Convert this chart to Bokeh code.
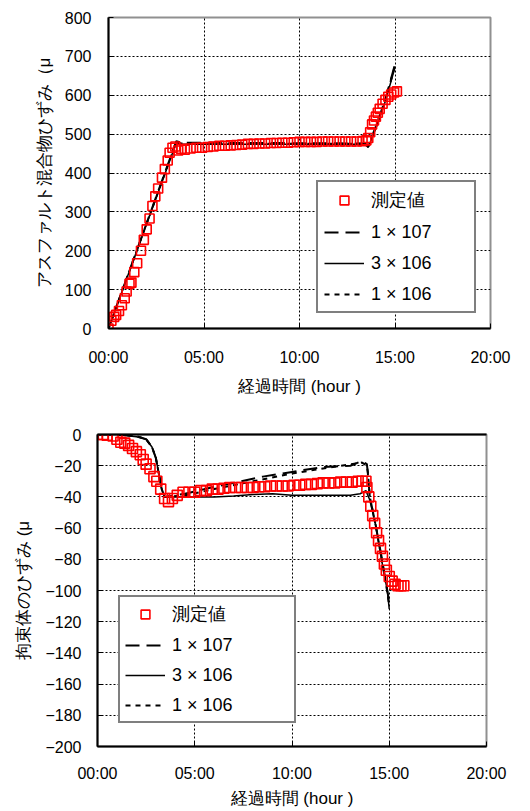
from bokeh.plotting import figure
from bokeh.models import FixedTicker, Legend, LegendItem, LinearAxis, Range1d
from bokeh.embed import file_html
from bokeh.resources import INLINE

# ---------------- data: top chart (asphalt mixture strain) ----------------
top_meas_h = [0.0, 0.15, 0.3, 0.4, 0.55, 0.7, 0.85, 0.95, 1.1, 1.2, 1.35, 1.5, 1.7, 1.85,
              2.0, 2.15, 2.3, 2.45, 2.6, 2.8, 2.95, 3.1, 3.2, 3.35, 3.5, 3.65, 3.8, 4.0,
              4.3, 4.6, 4.9, 5.2, 5.5, 5.8, 6.1, 6.4, 6.7, 7.0, 7.3, 7.6, 7.9, 8.2, 8.5,
              8.8, 9.1, 9.4, 9.7, 10.0, 10.3, 10.6, 10.9, 11.2, 11.5, 11.8, 12.1, 12.4,
              12.7, 13.0, 13.3, 13.5, 13.6, 13.7, 13.8, 13.9, 14.0, 14.1, 14.2, 14.35,
              14.5, 14.65, 14.8, 14.95, 15.1]
top_meas_v = [0, 20, 30, 35, 45, 60, 78, 95, 115, 118, 145, 168, 200, 228,
              255, 283, 315, 340, 360, 388, 410, 432, 452, 465, 468, 458, 462, 460,
              463, 465, 465, 467, 468, 470, 470, 471, 472, 473, 475, 475, 476, 476, 477,
              477, 478, 478, 479, 480, 480, 480, 480, 481, 481, 481, 481, 481,
              481, 481, 482, 484, 490, 505, 525, 535, 545, 555, 565, 578,
              588, 596, 602, 607, 610]

top_m1_h = [0.0, 3.55, 3.8, 13.4, 13.6, 14.0, 14.5, 15.0]
top_m1_v = [0, 482, 478, 476, 470, 520, 590, 680]
top_m2_h = [0.0, 3.55, 3.8, 13.4, 13.6, 14.0, 14.5, 15.0]
top_m2_v = [0, 478, 474, 474, 466, 515, 585, 672]
top_m3_h = [0.0, 3.55, 3.8, 13.4, 13.6, 14.0, 14.5, 15.0]
top_m3_v = [0, 480, 476, 475, 468, 518, 588, 676]

# ---------------- data: bottom chart (restraint body strain) ----------------
bot_meas_h = [0.0, 0.3, 0.5, 0.8, 1.0, 1.2, 1.4, 1.6, 1.8, 2.0, 2.2, 2.35, 2.5, 2.7, 2.9,
              3.05, 3.25, 3.45, 3.65, 3.85, 4.1, 4.4, 4.7, 5.0, 5.3, 5.6, 5.9, 6.2, 6.5,
              6.8, 7.1, 7.4, 7.7, 8.0, 8.3, 8.6, 8.9, 9.2, 9.5, 9.8, 10.1, 10.4, 10.7,
              11.0, 11.3, 11.6, 11.9, 12.2, 12.5, 12.8, 13.1, 13.4, 13.6, 13.8, 13.85,
              13.95, 14.05, 14.15, 14.25, 14.35, 14.45, 14.55, 14.65, 14.75, 14.85, 15.0,
              15.15, 15.3, 15.45, 15.6, 15.75]
bot_meas_v = [0, 0, -0.5, -1, -3, -5, -5.5, -7, -9, -11, -13, -16, -19, -22, -27,
              -30, -35, -41, -43, -41, -39, -37, -37, -37, -36, -36, -35, -35, -34.5,
              -34, -34, -34, -34, -34, -33.5, -33.5, -33, -33, -33, -33, -32.5, -32.5, -32,
              -32, -31.5, -31, -31, -31, -30.5, -30.5, -30.5, -30, -30, -30, -34,
              -40, -46, -52, -57, -63, -68, -73, -78, -83, -87, -91,
              -94, -96, -97, -97, -97]

bot_m1_h = [0.0, 1.0, 2.0, 2.5, 2.8, 3.0, 3.15, 3.3, 3.45, 4.5, 5.5, 7.0, 8.5, 10.0,
            11.5, 13.0, 13.6, 13.85, 13.9, 14.0, 14.3, 14.6, 14.9, 15.0]
bot_m1_v = [0, 0, -1, -3, -8, -15, -25, -35, -40, -38, -35, -31, -27, -24,
            -21, -20, -17, -19, -25, -40, -58, -78, -100, -108]
bot_m2_h = [0.0, 1.0, 2.0, 2.5, 2.8, 3.0, 3.15, 3.3, 3.45, 4.0, 5.0, 6.0, 7.0, 8.0,
            9.0, 10.0, 11.0, 12.0, 13.0, 13.5, 13.8, 14.0, 14.3, 14.6, 14.9, 15.0]
bot_m2_v = [0, 0, -1.5, -3, -8, -15, -25, -35, -40, -40, -40, -40, -39.5, -38.5,
            -38, -39, -39, -39, -39, -38, -36, -42, -58, -80, -100, -112]
bot_m3_h = [0.0, 1.0, 2.0, 2.5, 2.8, 3.0, 3.15, 3.3, 3.45, 4.5, 6.0, 8.0, 10.0, 12.0,
            13.6, 13.85, 13.9, 14.0, 14.3, 14.6, 14.9, 15.0]
bot_m3_v = [0, 0, -1, -3, -8, -15, -25, -35, -40, -39, -35, -30, -25, -21,
            -18, -20, -24, -40, -58, -79, -101, -110]

x_ticks = [0, 5, 10, 15, 20]
x_tick_labels = ["00:00", "05:00", "10:00", "15:00", "20:00"]
top_y_ticks = [0, 100, 200, 300, 400, 500, 600, 700, 800]
bot_y_ticks = [0, -20, -40, -60, -80, -100, -120, -140, -160, -180, -200]
legend_labels = ["測定値", "1 × 107", "3 × 106", "1 × 106"]

LATIN = "Liberation Sans"
RED = "#ff0000"


def style(p, yticks, x_std, x_title_std, y_std, y_title_std):
    xa = p.below[0]
    ya = p.left[0]
    xa.ticker = FixedTicker(ticks=x_ticks)
    xa.major_label_overrides = dict(zip(x_ticks, x_tick_labels))
    ya.ticker = FixedTicker(ticks=yticks)
    for ax in (xa, ya):
        ax.axis_line_color = "black"
        ax.axis_line_width = 2
        ax.major_tick_in = 5
        ax.major_tick_out = 0
        ax.minor_tick_line_color = None
        ax.major_tick_line_color = "black"
        ax.major_label_text_font = LATIN
        ax.major_label_text_font_size = "16px"
        ax.major_label_text_color = "black"
        ax.axis_label_text_font = LATIN
        ax.axis_label_text_font_size = "17px"
        ax.axis_label_text_font_style = "normal"
        ax.axis_label_text_color = "black"
    xa.major_label_standoff = x_std
    ya.major_label_standoff = y_std
    xa.axis_label_standoff = x_title_std
    ya.axis_label_standoff = y_title_std
    p.xgrid.ticker = FixedTicker(ticks=x_ticks)
    p.ygrid.ticker = FixedTicker(ticks=yticks)
    for g in (p.xgrid[0], p.ygrid[0]):
        g.grid_line_color = "black"
        g.grid_line_dash = "2 2"
        g.grid_line_width = 1
    p.outline_line_color = "#909090"
    p.outline_line_width = 2
    p.background_fill_color = "white"
    p.border_fill_color = "white"
    return xa, ya


def add_series(p, mh, mv, m1h, m1v, m2h, m2v, m3h, m3v, msize):
    r3 = p.line(m3h, m3v, line_color="black", line_width=2, line_dash="5 5")
    r2 = p.line(m2h, m2v, line_color="black", line_width=1.5)
    r1 = p.line(m1h, m1v, line_color="black", line_width=2, line_dash="14 7")
    r0 = p.scatter(mh, mv, marker="square", size=msize, fill_color=None,
                   line_color=RED, line_width=1.6)
    return [r0, r1, r2, r3]


def make_legend(p, renderers, loc, label_width, row_h, spacing, padding):
    items = [LegendItem(label=l, renderers=[r]) for l, r in zip(legend_labels, renderers)]
    lg = Legend(items=items, location=loc)
    lg.label_text_font = LATIN
    lg.label_text_font_size = "18px"
    lg.label_text_color = "black"
    lg.glyph_width = 40
    lg.glyph_height = row_h
    lg.label_height = row_h
    lg.label_width = label_width
    lg.label_standoff = 7
    lg.spacing = spacing
    lg.padding = padding
    lg.margin = 0
    lg.border_line_color = "black"
    lg.border_line_width = 2
    lg.background_fill_alpha = 1
    p.add_layout(lg, "center")


# ---------------- top figure ----------------
p1 = figure(width=522, height=398, output_backend="svg", toolbar_location=None,
            x_range=Range1d(0, 20), y_range=Range1d(0, 800),
            min_border_left=108, min_border_right=32, min_border_top=17, min_border_bottom=70)
xa1, ya1 = style(p1, top_y_ticks, 20, 8, 17, 8)
xa1.axis_label = "経過時間 (hour )"
ya1.axis_label = "アスファルト混合物ひずみ（μ"
r_top = add_series(p1, top_meas_h, top_meas_v, top_m1_h, top_m1_v,
                   top_m2_h, top_m2_v, top_m3_h, top_m3_v, 9)
make_legend(p1, r_top, (208, 15), 97, 22, 9, 6)

# ---------------- bottom figure ----------------
p2 = figure(width=522, height=413, output_backend="svg", toolbar_location=None,
            x_range=Range1d(0, 20), y_range=Range1d(-200, 0),
            min_border_left=97, min_border_right=36, min_border_top=36, min_border_bottom=65)
xa2, ya2 = style(p2, bot_y_ticks, 18, 4, 16, 9)
top_axis = LinearAxis(ticker=FixedTicker(ticks=[]), major_tick_line_color=None,
                      minor_tick_line_color=None, axis_line_color="black", axis_line_width=2)
p2.add_layout(top_axis, "above")
xa2.axis_label = "経過時間 (hour )"
ya2.axis_label = "拘束体のひずみ (μ"
r_bot = add_series(p2, bot_meas_h, bot_meas_v, bot_m1_h, bot_m1_v,
                   bot_m2_h, bot_m2_v, bot_m3_h, bot_m3_v, 10)
make_legend(p2, r_bot, (21, 23), 117, 22, 8, 5)

open("out.html", "w").write(file_html([p1, p2], INLINE))
